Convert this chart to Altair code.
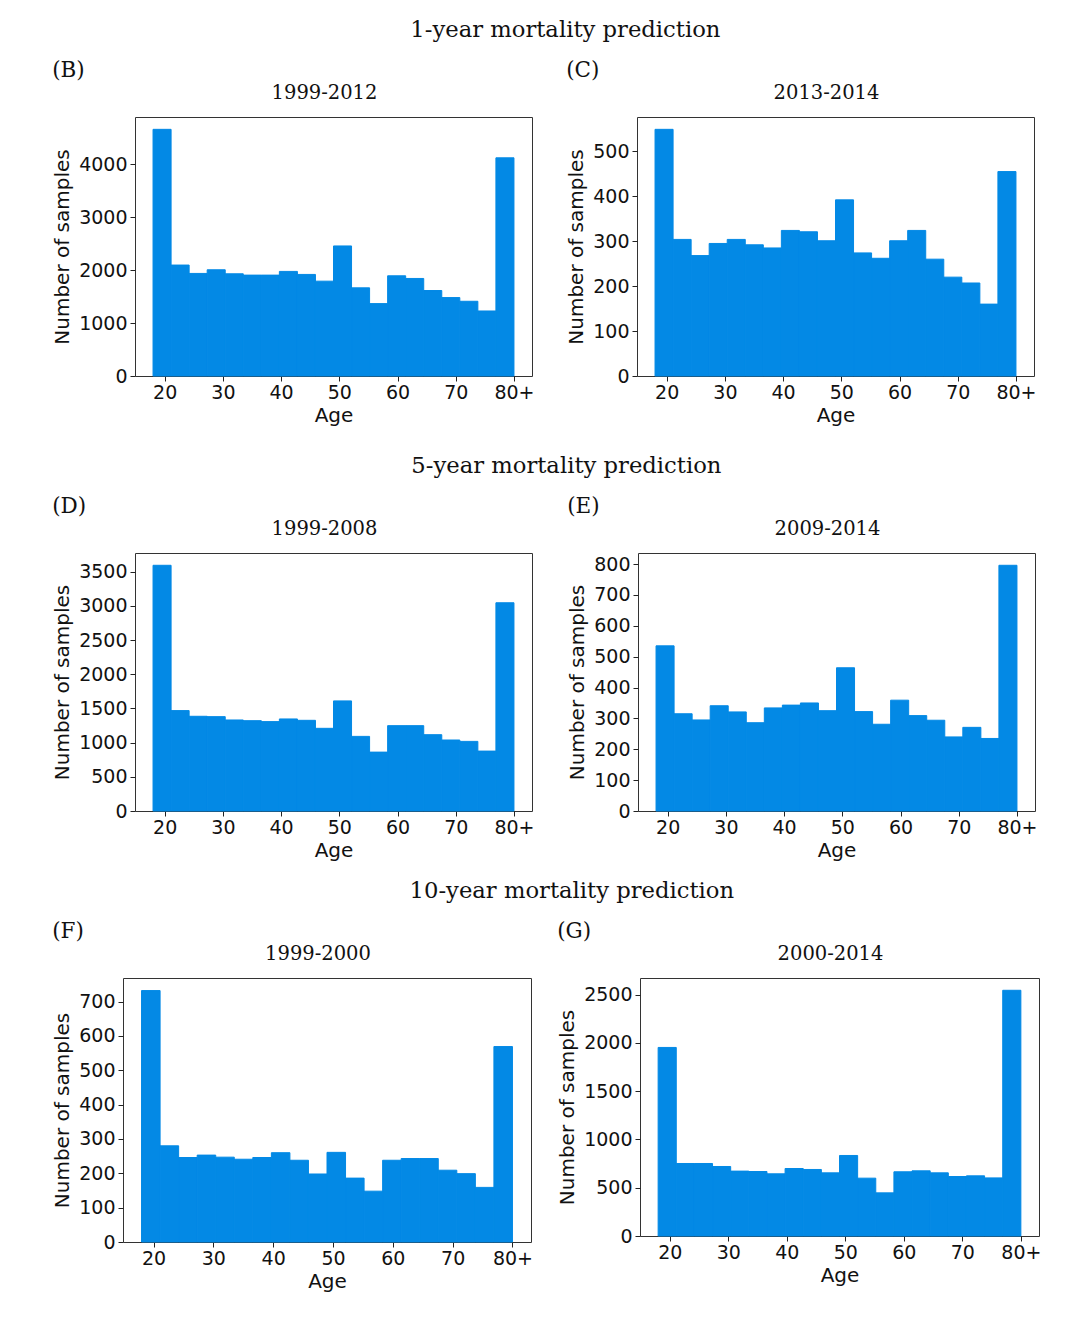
import altair as alt
import pandas as pd

# ---------------- data ----------------
bin_edges = [18.0, 21.1, 24.2, 27.3, 30.4, 33.5, 36.6, 39.7, 42.8, 45.9, 49.0,
             52.1, 55.2, 58.3, 61.4, 64.5, 67.6, 70.7, 73.8, 76.9, 80.0]

counts_B = [4658, 2095, 1937, 2006, 1930, 1905, 1905, 1975, 1918, 1791,
            2456, 1665, 1367, 1892, 1842, 1614, 1481, 1411, 1228, 4120]
counts_C = [549, 304, 268, 295, 304, 292, 285, 324, 321, 301,
            392, 274, 262, 301, 324, 260, 220, 207, 160, 455]
counts_D = [3593, 1468, 1385, 1380, 1331, 1321, 1307, 1346, 1326, 1209,
            1610, 1091, 861, 1248, 1248, 1116, 1038, 1018, 876, 3045]
counts_E = [535, 315, 295, 341, 321, 286, 334, 343, 350, 325,
            464, 322, 281, 359, 309, 294, 240, 271, 235, 796]
counts_F = [732, 280, 246, 253, 247, 241, 246, 260, 238, 198,
            261, 186, 148, 238, 243, 243, 209, 199, 159, 569]
counts_G = [1953, 751, 751, 720, 672, 668, 644, 699, 689, 654,
            834, 599, 447, 665, 675, 654, 616, 623, 602, 2545]

x_ticks = [20, 30, 40, 50, 60, 70, 80]
yticks_B = [0, 1000, 2000, 3000, 4000]
yticks_C = [0, 100, 200, 300, 400, 500]
yticks_D = [0, 500, 1000, 1500, 2000, 2500, 3000, 3500]
yticks_E = [0, 100, 200, 300, 400, 500, 600, 700, 800]
yticks_F = [0, 100, 200, 300, 400, 500, 600, 700]
yticks_G = [0, 500, 1000, 1500, 2000, 2500]

section_titles = ["1-year mortality prediction", "5-year mortality prediction",
                  "10-year mortality prediction"]
panel_labels = ["(B)", "(C)", "(D)", "(E)", "(F)", "(G)"]
periods = ["1999-2012", "2013-2014", "1999-2008", "2009-2014", "1999-2000", "2000-2014"]

BLUE = "#0389e5"
SERIF = "DejaVu Serif"
SANS = "DejaVu Sans"
INK = "#111111"


def panel(counts, yticks, period, label, w, h):
    df = pd.DataFrame({"start": bin_edges[:-1], "end": bin_edges[1:], "count": counts})
    ymax = max(counts) * 1.05
    bars = alt.Chart(df).mark_rect(color=BLUE, stroke=BLUE, strokeWidth=1).encode(
        x=alt.X("start:Q",
                scale=alt.Scale(domain=[14.9, 83.1], nice=False, zero=False),
                axis=alt.Axis(values=x_ticks, title="Age",
                              labelExpr="datum.value == 80 ? '80+' : datum.label")),
        x2="end:Q",
        y=alt.Y("count:Q",
                scale=alt.Scale(domain=[0, ymax], nice=False),
                axis=alt.Axis(values=yticks, title="Number of samples", format="d")),
    ).properties(
        width=w, height=h,
        title=alt.Title(period, font=SERIF, fontSize=19.5, fontWeight="normal",
                        color=INK, anchor="middle", dx=-9, offset=14),
    )
    return alt.hconcat(
        bars,
        title=alt.Title(label, font=SERIF, fontSize=21.5, fontWeight="normal",
                        color=INK, anchor="start", offset=1),
    )


def spacer():
    # invisible 1-px cell so that each row is laid out from its left bound
    return alt.Chart(pd.DataFrame({"v": [0]})).mark_point(opacity=0).encode(
        x=alt.value(0), y=alt.value(0)
    ).properties(width=1, height=1, view=alt.ViewBackground(strokeOpacity=0))


def section(text, left, right, spacing, dx):
    return alt.hconcat(
        spacer(),
        alt.hconcat(left, right, spacing=spacing),
        spacing=0,
        title=alt.Title(text, font=SERIF, fontSize=22.7, fontWeight="normal",
                        color=INK, anchor="middle", dx=dx, offset=18),
    )


row1 = section(section_titles[0],
               panel(counts_B, yticks_B, periods[0], panel_labels[0], 397, 259),
               panel(counts_C, yticks_C, periods[1], panel_labels[1], 397, 259),
               31, 24)
row2 = section(section_titles[1],
               panel(counts_D, yticks_D, periods[2], panel_labels[2], 397, 258),
               panel(counts_E, yticks_E, periods[3], panel_labels[3], 397, 258),
               32, 24.5)
row3 = section(section_titles[2],
               panel(counts_F, yticks_F, periods[4], panel_labels[4], 408, 264),
               panel(counts_G, yticks_G, periods[5], panel_labels[5], 399, 258),
               23, 28)

chart = alt.vconcat(
    alt.vconcat(row1, row2, spacing=28),
    row3, spacing=18,
).properties(
    padding={"left": 46, "top": 18, "right": 5, "bottom": 5},
    background="white",
).configure_view(
    stroke="#333333", strokeWidth=1,
).configure_axis(
    grid=False,
    domain=False,
    tickColor="#222222", tickSize=5, tickWidth=1,
    labelFont=SANS, labelFontSize=19, labelColor=INK, labelPadding=3,
    titleFont=SANS, titleFontSize=20, titleColor=INK, titleFontWeight="normal",
    titlePadding=6,
).configure_axisX(
    labelPadding=2, titlePadding=3,
)

chart.save("out.html", embed_options={"renderer": "svg", "actions": False})
